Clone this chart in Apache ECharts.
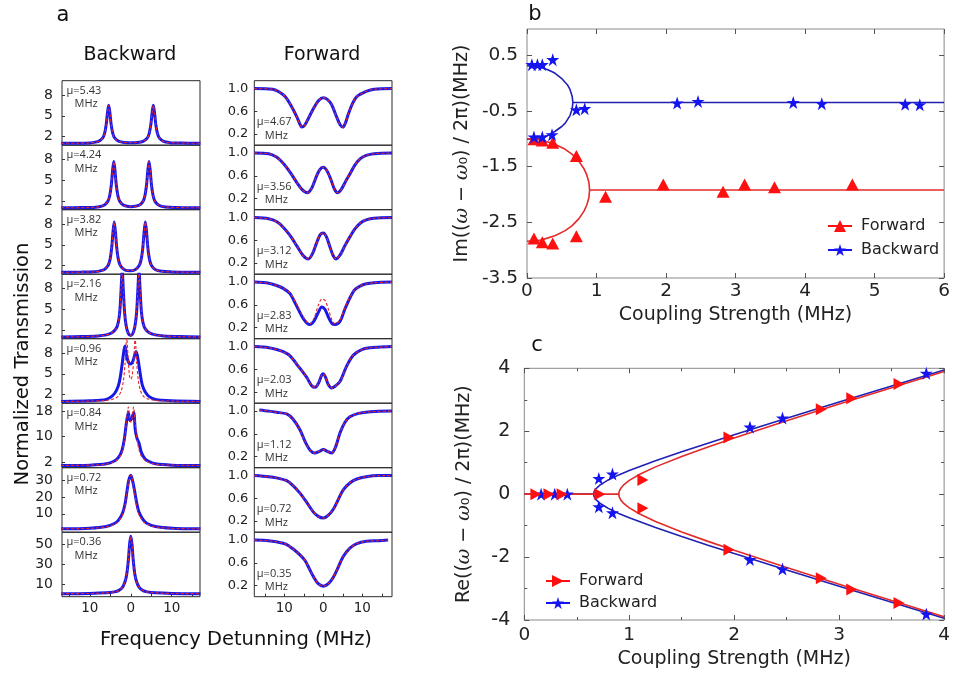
<!DOCTYPE html>
<html><head><meta charset="utf-8">
<script src="https://cdn.jsdelivr.net/npm/echarts@6/dist/echarts.min.js"></script>
<style>html,body{margin:0;padding:0;background:#fff}#c{width:953px;height:677px}</style>
</head><body><div id="c"></div>
<script>
// ---------------- DATA ----------------
const backwardMu = ['5.43','4.24','3.82','2.16','0.96','0.84','0.72','0.36'];
const forwardMu  = ['4.67','3.56','3.12','2.83','2.03','1.12','0.72','0.35'];
const backwardYTicks = [[2,5,8],[2,5,8],[2,5,8],[2,5,8],[2,5,8],[2,10,18],[10,20,30],[10,30,50]];
const forwardYTicks = [0.2,0.6,1.0];
const detuningTicks = [-10,0,10];

// Backward spectra (fit = red dashed, meas = blue)
const backFit1 = [[-17,1.02],[-13,1.04],[-10,1.08],[-9.4,1.12],[-7.9,1.30],[-6.9,1.76],[-6.4,2.46],[-6.0,3.75],[-5.7,5.4],[-5.4,6.5],[-5.1,5.4],[-4.8,3.75],[-4.4,2.46],[-3.9,1.76],[-2.9,1.30],[-1.4,1.14],[0,1.10],[1.5,1.14],[3.0,1.30],[4.0,1.76],[4.5,2.46],[4.9,3.75],[5.2,5.4],[5.5,6.5],[5.8,5.4],[6.1,3.75],[6.5,2.46],[7.0,1.76],[8.0,1.30],[9.5,1.12],[11,1.08],[14,1.04],[17,1.02]];
const backFit2 = [[-17,1.02],[-12,1.05],[-9,1.08],[-8.15,1.15],[-6.65,1.36],[-5.65,1.92],[-5.15,2.77],[-4.75,4.35],[-4.45,6.36],[-4.15,7.7],[-3.85,6.36],[-3.55,4.35],[-3.15,2.77],[-2.65,1.92],[-1.65,1.36],[0,1.18],[1.95,1.36],[2.95,1.92],[3.45,2.77],[3.85,4.35],[4.15,6.36],[4.45,7.7],[4.75,6.36],[5.05,4.35],[5.45,2.77],[5.95,1.92],[6.95,1.36],[8.45,1.15],[11,1.07],[14,1.04],[17,1.02]];
const backFit3 = [[-17,1.02],[-12,1.05],[-9,1.09],[-8.05,1.16],[-6.55,1.40],[-5.55,2.01],[-5.05,2.93],[-4.65,4.65],[-4.35,6.84],[-4.05,8.3],[-3.75,6.84],[-3.45,4.65],[-3.05,2.93],[-2.55,2.01],[-1.55,1.40],[-0.25,1.25],[1.05,1.40],[2.05,2.01],[2.55,2.93],[2.95,4.65],[3.25,6.84],[3.55,8.3],[3.85,6.84],[4.15,4.65],[4.55,2.93],[5.05,2.01],[6.05,1.40],[7.55,1.16],[10,1.08],[14,1.04],[17,1.02]];
const backFit4 = [[-17,1.0],[-12,1.05],[-8,1.15],[-6,1.3],[-4.6,1.6],[-3.6,2.2],[-3.1,3.0],[-2.7,4.6],[-2.4,7.5],[-2.1,10.5],[-1.8,7.5],[-1.5,4.4],[-1.1,2.5],[-0.6,1.5],[0,1.2],[0.5,1.5],[1.0,2.5],[1.4,4.4],[1.7,7.5],[2.0,10.5],[2.3,7.5],[2.6,4.6],[3.0,3.0],[3.5,2.2],[4.5,1.6],[6,1.3],[8,1.15],[12,1.05],[17,1.0]];
const backFit5 = [[-17,1],[-10,1.05],[-6,1.15],[-4,1.4],[-3,1.8],[-2.3,2.6],[-1.8,4.0],[-1.4,6.5],[-1.0,10.2],[-0.6,6.8],[-0.3,4.6],[0,4.2],[0.3,4.6],[0.7,6.8],[1.05,10.2],[1.45,6.5],[1.85,4.0],[2.35,2.6],[3,1.8],[4,1.4],[6,1.15],[10,1.05],[17,1.0]];
const backMeas5 = [[-17,1],[-10,1.1],[-6,1.3],[-4.5,1.8],[-3.5,2.6],[-2.8,3.8],[-2.2,6.0],[-1.7,8.3],[-1.4,9.0],[-1.0,7.5],[-0.5,6.6],[0,6.4],[0.5,6.8],[1.0,7.8],[1.3,8.2],[1.8,7.0],[2.3,5.0],[2.8,3.4],[3.5,2.4],[4.5,1.7],[6,1.3],[10,1.1],[17,1.0]];
const backFit6 = [[-17,1],[-10,1.1],[-6,1.4],[-4,2.2],[-3,3.2],[-2.2,5.0],[-1.6,8.5],[-1.1,14],[-0.6,19.2],[-0.25,15.5],[0,14.5],[0.3,15.5],[0.65,19.2],[1.1,14],[1.6,8.5],[2.2,5.0],[3,3.2],[4,2.2],[6,1.4],[10,1.1],[17,1]];
const backMeas6 = [[-17,1],[-10,1.1],[-6,1.5],[-4,2.4],[-3,3.5],[-2.2,5.5],[-1.6,9],[-1.1,14],[-0.6,17.5],[-0.2,15],[0.2,15.5],[0.7,17.5],[1.1,12],[1.5,9.5],[2.0,8],[2.6,5],[3.5,3],[4.5,2.2],[6,1.5],[10,1.1],[17,1]];
const backFit7 = [[-17,1],[-10,1.3],[-6,2.2],[-4,3.8],[-3,5.5],[-2,9.5],[-1.4,15],[-0.9,23],[-0.5,29],[0,33],[0.5,29],[0.9,23],[1.4,15],[2,9.5],[3,5.5],[4,3.8],[6,2.2],[10,1.3],[17,1]];
const backMeas7 = [[-17,1],[-10,1.4],[-6,2.4],[-4,4.2],[-3,6.2],[-2,10.5],[-1.4,16],[-0.9,24],[-0.5,30],[0,33],[0.5,29],[0.9,24],[1.4,17],[2,11],[3,6.5],[4,4.2],[6,2.4],[10,1.4],[17,1]];
const backFit8 = [[-17,1],[-10,1.2],[-6,1.8],[-4,2.8],[-3,4],[-2,7.5],[-1.4,13],[-1,20],[-0.6,34],[-0.3,50],[0,58],[0.3,50],[0.6,34],[1,20],[1.4,13],[2,7.5],[3,4],[4,2.8],[6,1.8],[10,1.2],[17,1]];

// Forward spectra
const forFit1 = [[-17.7,1.0],[-13,0.99],[-11.5,0.95],[-9.8,0.86],[-8.3,0.7],[-6.8,0.5],[-6.0,0.37],[-5.5,0.32],[-4.8,0.35],[-4,0.45],[-2.6,0.64],[-1.2,0.79],[0,0.84],[1.0,0.81],[2.1,0.72],[3.4,0.50],[4.3,0.36],[5.0,0.32],[5.7,0.40],[6.4,0.55],[7.5,0.74],[8.6,0.86],[11,0.95],[13,0.99],[17.6,1.0]];
const forFit2 = [[-17.7,1.0],[-14,0.99],[-12,0.93],[-10.3,0.82],[-8.5,0.66],[-6.8,0.48],[-5.5,0.36],[-4.1,0.30],[-3,0.38],[-2,0.55],[-1,0.70],[0,0.75],[1,0.68],[2,0.52],[2.8,0.37],[3.6,0.30],[4.6,0.36],[5.7,0.50],[6.8,0.63],[8,0.78],[9.4,0.90],[11,0.96],[13,0.99],[17.6,1.0]];
const forFit3 = [[-17.7,1.0],[-14,0.98],[-12,0.93],[-10.3,0.83],[-8.5,0.68],[-6.8,0.50],[-5.2,0.33],[-3.85,0.27],[-2.8,0.36],[-1.8,0.54],[-0.8,0.70],[0,0.73],[0.8,0.66],[1.7,0.48],[2.5,0.33],[3.25,0.27],[4.3,0.34],[5.5,0.50],[6.8,0.66],[8.2,0.81],[9.6,0.91],[11,0.96],[13,0.99],[17.6,1.0]];
const forMeas4 = [[-17.7,1.0],[-14,0.98],[-12,0.94],[-10.3,0.89],[-8.6,0.80],[-7,0.60],[-5.1,0.35],[-3.5,0.25],[-2.4,0.31],[-1.4,0.45],[-0.4,0.56],[0.4,0.52],[1.3,0.38],[2.2,0.27],[3.0,0.25],[4.3,0.31],[5.5,0.52],[6.8,0.72],[8,0.86],[9.4,0.93],[11,0.97],[13,0.99],[17.6,1.0]];
const forFit4 = [[-17.7,1.0],[-14,0.98],[-12,0.94],[-10.3,0.89],[-8.6,0.81],[-7,0.63],[-5.1,0.38],[-3.5,0.26],[-2.4,0.36],[-1.4,0.57],[-0.4,0.70],[0.4,0.68],[1.3,0.52],[2.2,0.33],[3.0,0.26],[4.3,0.33],[5.5,0.54],[6.8,0.73],[8,0.86],[9.4,0.93],[11,0.97],[13,0.99],[17.6,1.0]];
const forFit5 = [[-17.7,1.0],[-14,0.98],[-12,0.95],[-10.3,0.91],[-8.6,0.84],[-6.5,0.66],[-4.3,0.46],[-3,0.31],[-2.1,0.28],[-1.2,0.36],[-0.4,0.50],[0,0.52],[0.5,0.47],[1.2,0.34],[2.1,0.27],[3,0.30],[4.3,0.39],[6,0.66],[7.7,0.85],[10,0.95],[12,0.98],[14,0.99],[17.6,1.0]];
const forFit6 = [[-16.4,1.02],[-14,1.0],[-12,0.98],[-9.4,0.95],[-7.8,0.86],[-6,0.67],[-4.6,0.45],[-3.4,0.31],[-2.2,0.26],[-1,0.29],[0,0.32],[1,0.29],[2.1,0.26],[3.1,0.36],[4.3,0.62],[5.5,0.80],[6.8,0.90],[9,0.96],[12,0.99],[17.6,1.0]];
const forFit7 = [[-17.7,1.0],[-14,0.98],[-12,0.96],[-9.4,0.91],[-7.7,0.82],[-6,0.69],[-4.3,0.53],[-2.6,0.36],[-1.3,0.28],[0,0.25],[1.3,0.30],[2.6,0.41],[3.9,0.59],[5.1,0.75],[6.8,0.87],[8.6,0.94],[11,0.98],[14,1.0],[17.6,1.0]];
const forFit8 = [[-17.7,1.0],[-14,0.99],[-12,0.97],[-9.6,0.93],[-7.5,0.83],[-6,0.74],[-4.7,0.64],[-3.5,0.48],[-2.5,0.35],[-1.3,0.23],[0,0.185],[1.3,0.23],[2.6,0.35],[3.8,0.52],[5.1,0.71],[6.8,0.86],[8.6,0.94],[11,0.98],[14,0.99],[16.6,1.0]];

// Panel b: imaginary part vs coupling strength
const imForward  = [[0.1,-1.01],[0.22,-1.03],[0.37,-1.07],[0.71,-1.31],[1.13,-2.04],[1.96,-1.82],[2.82,-1.95],[3.13,-1.82],[3.56,-1.87],[4.68,-1.82],[0.1,-2.79],[0.22,-2.86],[0.37,-2.88],[0.71,-2.75]];
const imBackward = [[0.07,0.33],[0.15,0.33],[0.22,0.33],[0.37,0.42],[0.1,-0.97],[0.22,-0.97],[0.36,-0.93],[0.71,-0.48],[0.83,-0.46],[2.16,-0.36],[2.46,-0.33],[3.83,-0.35],[4.24,-0.37],[5.44,-0.38],[5.65,-0.39]];
const imFitBackUpper = [[0,0.31],[0.1,0.30],[0.2,0.28],[0.3,0.24],[0.4,0.18],[0.5,0.08],[0.55,0.01],[0.58,-0.03],[0.62,-0.12],[0.65,-0.24],[0.66,-0.35],[6,-0.35]];
const imFitBackLower = [[0,-1.01],[0.1,-1.00],[0.2,-0.98],[0.3,-0.94],[0.4,-0.87],[0.5,-0.78],[0.55,-0.72],[0.58,-0.66],[0.62,-0.58],[0.65,-0.46],[0.66,-0.35]];
const imFitForUpper = [[0,-1.00],[0.1,-1.01],[0.2,-1.02],[0.4,-1.10],[0.55,-1.19],[0.65,-1.28],[0.75,-1.41],[0.82,-1.54],[0.86,-1.65],[0.89,-1.78],[0.9,-1.92],[6,-1.92]];
const imFitForLower = [[0,-2.84],[0.1,-2.83],[0.2,-2.82],[0.4,-2.74],[0.55,-2.65],[0.65,-2.56],[0.75,-2.43],[0.82,-2.30],[0.86,-2.19],[0.89,-2.06],[0.9,-1.92]];

// Panel c: real part vs coupling strength
const reForward  = [[0.11,0],[0.235,0],[0.36,0],[0.72,0],[1.13,0.45],[1.13,-0.45],[1.95,1.8],[1.95,-1.77],[2.83,2.7],[2.83,-2.67],[3.12,3.05],[3.12,-3.03],[3.57,3.5],[3.57,-3.46]];
const reBackward = [[0.16,0],[0.29,0],[0.41,0],[0.71,0.5],[0.71,-0.4],[0.84,0.64],[0.84,-0.59],[2.15,2.13],[2.15,-2.08],[2.46,2.42],[2.46,-2.38],[3.83,3.84],[3.83,-3.81]];
const reFitBackUpper = [[0,0],[0.66,0],[0.665,0.081],[0.68,0.164],[0.72,0.288],[0.8,0.452],[0.9,0.612],[1.0,0.751],[1.25,1.062],[1.5,1.347],[1.75,1.621],[2,1.888],[2.5,2.411],[3,2.926],[3.5,3.437],[4,3.945]];
const reFitBackLower = [[0.66,0],[0.665,-0.081],[0.68,-0.164],[0.72,-0.288],[0.8,-0.452],[0.9,-0.612],[1.0,-0.751],[1.25,-1.062],[1.5,-1.347],[1.75,-1.621],[2,-1.888],[2.5,-2.411],[3,-2.926],[3.5,-3.437],[4,-3.945]];
const reFitForUpper = [[0,0],[0.9,0],[0.905,0.095],[0.92,0.19],[0.95,0.304],[1.0,0.436],[1.1,0.632],[1.25,0.867],[1.5,1.2],[1.75,1.501],[2,1.786],[2.5,2.332],[3,2.862],[3.5,3.382],[4,3.897]];
const reFitForLower = [[0.9,0],[0.905,-0.095],[0.92,-0.19],[0.95,-0.304],[1.0,-0.436],[1.1,-0.632],[1.25,-0.867],[1.5,-1.2],[1.75,-1.501],[2,-1.786],[2.5,-2.332],[3,-2.862],[3.5,-3.382],[4,-3.897]];

const backFits  = [backFit1, backFit2, backFit3, backFit4, backFit5, backFit6, backFit7, backFit8];
const backMeas  = [backFit1, backFit2, backFit3, backFit4, backMeas5, backMeas6, backMeas7, backFit8];
const forFits   = [forFit1, forFit2, forFit3, forFit4, forFit5, forFit6, forFit7, forFit8];
const forMeas   = [forFit1, forFit2, forFit3, forMeas4, forFit5, forFit6, forFit7, forFit8];

// ---------------- LAYOUT / STYLE ----------------
const FONT = '"DejaVu Sans", "Open Sans", sans-serif';
const SFONT = '"Open Sans", "Liberation Sans", sans-serif';
const BLUE = '#1818e8', RED = '#e3262b', CBLUE = '#2020b4', CRED = '#e42a2a';
const MRED = '#ff1010', MBLUE = '#1414f0';
const STAR = 'path://M50,0L61.8,35.4L99,35.4L68.9,57.3L80.4,92.7L50,70.8L19.6,92.7L31.1,57.3L1,35.4L38.2,35.4Z';
const RTRI = 'path://M0,0L9,5L0,10Z';
const backYRange = [[0.75,10.06],[0.75,10.06],[0.75,10.06],[0.75,10.06],[0.75,10.06],[0.3,20.4],[-1,37.5],[-2,62]];

const PH = 64.5, TOP0 = 80.7;
const grids = [], xAxes = [], yAxes = [], series = [], graphics = [];

function addSpectrum(col, i) {
  const isB = col === 'b';
  const left = isB ? 62 : 254.3, width = isB ? 138 : 137.7;
  const top = TOP0 + i * PH;
  const gi = grids.length;
  const last = i === 7;
  grids.push({left, top, width, height: PH, show: true, borderColor: '#2a2a2a', borderWidth: 1});
  xAxes.push({gridIndex: gi, type: 'value', min: isB ? -16.8 : -17.7, max: isB ? 16.9 : 17.6,
    axisLine: {show: false, onZero: false}, splitLine: {show: false},
    axisTick: {show: last, inside: true, length: 3, customValues: [-15,-10,-5,0,5,10,15], lineStyle: {color: '#333'}},
    axisLabel: {show: last, customValues: detuningTicks, formatter: v => String(Math.abs(v)),
      fontSize: 13.5, color: '#222', margin: 5, fontFamily: FONT}});
  const yt = isB ? backwardYTicks[i] : forwardYTicks;
  const yr = isB ? backYRange[i] : [0, 1.14];
  yAxes.push({gridIndex: gi, type: 'value', min: yr[0], max: yr[1],
    axisLine: {show: false, onZero: false}, splitLine: {show: false},
    axisTick: {show: true, inside: true, length: 3, customValues: yt, lineStyle: {color: '#333'}},
    axisLabel: {customValues: yt, formatter: v => isB ? String(v) : v.toFixed(1),
      fontSize: isB ? 14 : 13, color: '#222', margin: isB ? 9 : 6, fontFamily: FONT}});
  const meas = isB ? backMeas[i] : forMeas[i];
  const fit = isB ? backFits[i] : forFits[i];
  series.push({type: 'line', xAxisIndex: gi, yAxisIndex: gi, data: meas, symbol: 'none', smooth: 0.3,
    lineStyle: {color: BLUE, width: 3}, z: 2, silent: true});
  series.push({type: 'line', xAxisIndex: gi, yAxisIndex: gi, data: fit, symbol: 'none', smooth: 0.3,
    lineStyle: {color: RED, width: 1.1, type: [3, 2]}, z: 3, silent: true});
  const mu = isB ? backwardMu[i] : forwardMu[i];
  const muY = isB ? top + 10 : top + 41.5;
  const muX = isB ? left + 4.5 : left + 2.5;
  graphics.push({type: 'text', z: 10, style: {x: muX, y: muY, text: 'μ=' + mu, fill: '#333', font: '11px ' + SFONT, verticalAlign: 'middle'}});
  graphics.push({type: 'text', z: 10, style: {x: muX + 8, y: muY + 13.5, text: 'MHz', fill: '#333', font: '11px ' + SFONT, verticalAlign: 'middle'}});
}
for (let i = 0; i < 8; i++) { addSpectrum('b', i); addSpectrum('f', i); }

const gb = grids.length;
grids.push({left: 527, top: 29, width: 420, height: 249, show: true, borderColor: '#8a8a8a', borderWidth: 1});
const gc = grids.length;
grids.push({left: 524.3, top: 368.3, width: 425.7, height: 251.7, show: true, borderColor: '#8a8a8a', borderWidth: 1});

const nameStyle = {fontSize: 19, color: '#222', fontFamily: FONT,
  rich: {i: {fontSize: 19, fontStyle: 'italic', fontFamily: '"DejaVu Serif", serif', color: '#222'}}};
const tickStyle = {color: '#555'};

function mainX(gi, max, gap, margin, minorSplit) {
  return {gridIndex: gi, type: 'value', min: 0, max, interval: 1,
    name: 'Coupling Strength (MHz)', nameLocation: 'middle', nameGap: gap, nameTextStyle: {fontSize: 19, color: '#222', fontFamily: FONT},
    axisLine: {show: false, onZero: false}, splitLine: {show: false},
    axisTick: {inside: true, length: 5, lineStyle: tickStyle},
    minorTick: {show: !!minorSplit, splitNumber: minorSplit || 5, length: 3, lineStyle: tickStyle},
    axisLabel: {fontSize: 18.5, color: '#222', margin, fontFamily: FONT}};
}
function mirrorX(gi, max, minorSplit) {
  return {gridIndex: gi, type: 'value', position: 'top', min: 0, max, interval: 1,
    axisLine: {show: false, onZero: false}, splitLine: {show: false}, axisLabel: {show: false},
    axisTick: {inside: true, length: 5, lineStyle: tickStyle},
    minorTick: {show: !!minorSplit, splitNumber: minorSplit || 5, length: 3, lineStyle: tickStyle}};
}
const xb = xAxes.length; xAxes.push(mainX(gb, 6, 28, 4, 0)); xAxes.push(mirrorX(gb, 6, 0));
const xc = xAxes.length; xAxes.push(mainX(gc, 4, 30, 6, 2)); xAxes.push(mirrorX(gc, 4, 2));

const imTicks = [-3.5,-2.5,-1.5,-0.5,0.5];
const yb = yAxes.length;
yAxes.push({gridIndex: gb, type: 'value', min: -3.5, max: 0.97,
  name: 'Im(({i|ω} − {i|ω}₀) / 2π)(MHz)', nameLocation: 'middle', nameGap: 55, nameTextStyle: nameStyle,
  axisLine: {show: false, onZero: false}, splitLine: {show: false},
  axisTick: {inside: true, length: 5, customValues: imTicks, lineStyle: tickStyle},
  axisLabel: {customValues: imTicks, formatter: v => v.toFixed(1), fontSize: 18.5, color: '#222', margin: 9, fontFamily: FONT}});
yAxes.push({gridIndex: gb, type: 'value', position: 'right', min: -3.5, max: 0.97,
  axisLine: {show: false, onZero: false}, splitLine: {show: false}, axisLabel: {show: false},
  axisTick: {inside: true, length: 5, customValues: imTicks, lineStyle: tickStyle}});
const yc = yAxes.length;
yAxes.push({gridIndex: gc, type: 'value', min: -4, max: 4, interval: 2,
  name: 'Re(({i|ω} − {i|ω}₀) / 2π)(MHz)', nameLocation: 'middle', nameGap: 51, nameTextStyle: nameStyle,
  axisLine: {show: false, onZero: false}, splitLine: {show: false},
  axisTick: {inside: true, length: 5, lineStyle: tickStyle},
  minorTick: {show: true, splitNumber: 2, length: 3, lineStyle: tickStyle},
  axisLabel: {fontSize: 19, color: '#222', margin: 14, fontFamily: FONT}});
yAxes.push({gridIndex: gc, type: 'value', position: 'right', min: -4, max: 4, interval: 2,
  axisLine: {show: false, onZero: false}, splitLine: {show: false}, axisLabel: {show: false},
  axisTick: {inside: true, length: 5, lineStyle: tickStyle},
  minorTick: {show: true, splitNumber: 2, length: 3, lineStyle: tickStyle}});

function curve(xi, yi, data, color) {
  return {type: 'line', xAxisIndex: xi, yAxisIndex: yi, data, symbol: 'none', silent: true,
    lineStyle: {color, width: 1.6}, z: 2};
}
function markers(name, xi, yi, data, symbol, size, color, z) {
  return {type: 'line', name, xAxisIndex: xi, yAxisIndex: yi, data, symbol, symbolSize: size, showSymbol: true,
    itemStyle: {color, opacity: 1}, lineStyle: {color, width: 2, opacity: 0}, z, silent: true};
}
series.push(curve(xb, yb, imFitBackUpper, CBLUE), curve(xb, yb, imFitBackLower, CBLUE),
            curve(xb, yb, imFitForUpper, CRED), curve(xb, yb, imFitForLower, CRED));
series.push(markers('Forward_b', xb, yb, imForward, 'triangle', [13, 12], MRED, 4));
series.push(markers('Backward_b', xb, yb, imBackward, STAR, 13, MBLUE, 5));

series.push(curve(xc, yc, reFitBackUpper, CBLUE), curve(xc, yc, reFitBackLower, CBLUE),
            curve(xc, yc, reFitForUpper, CRED), curve(xc, yc, reFitForLower, CRED));
series.push(markers('Backward_c', xc, yc, reBackward, STAR, 13, MBLUE, 4));
series.push(markers('Forward_c', xc, yc, reForward, RTRI, [11, 12], MRED, 5));

function txt(x, y, text, size, extra) {
  return {type: 'text', z: 10, style: Object.assign({x, y, text, fill: '#111', font: size + 'px ' + FONT, align: 'center', verticalAlign: 'middle'}, extra || {})};
}
graphics.push(txt(63, 16, 'a', 21));
graphics.push(txt(535, 15, 'b', 21));
graphics.push(txt(537, 346, 'c', 21));
graphics.push(txt(130, 55, 'Backward', 19));
graphics.push(txt(322, 55, 'Forward', 19));
graphics.push(txt(236, 640, 'Frequency Detunning (MHz)', 19.5));
graphics.push({type: 'text', z: 10, x: 23, y: 364, rotation: Math.PI / 2,
  style: {x: 0, y: 0, text: 'Normalized Transmission', fill: '#111', font: '19.5px ' + FONT, align: 'center', verticalAlign: 'middle'}});

const legendCommon = {orient: 'vertical', itemWidth: 24, itemHeight: 15, selectedMode: false,
  textStyle: {fontSize: 16, color: '#222', fontFamily: FONT, padding: [0, 0, 0, 4]}, formatter: n => n.split('_')[0],
  lineStyle: {opacity: 1, width: 2}};

const chart = echarts.init(document.getElementById('c'));
chart.setOption({
  animation: false,
  backgroundColor: '#fff',
  grid: grids, xAxis: xAxes, yAxis: yAxes, series,
  legend: [
    Object.assign({left: 822, top: 213, itemGap: 8, data: ['Forward_b', 'Backward_b']}, legendCommon),
    Object.assign({left: 540, top: 568, itemGap: 6, data: ['Forward_c', 'Backward_c']}, legendCommon)
  ],
  graphic: graphics
});
</script></body></html>
